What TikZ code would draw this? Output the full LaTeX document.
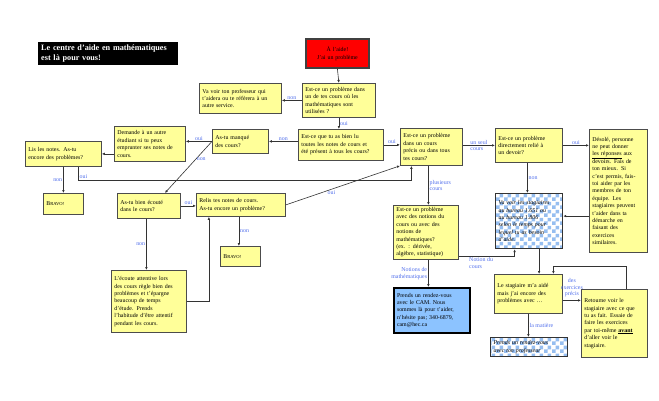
\documentclass[tikz,border=0pt]{standalone}
\usepackage{fontspec}
\setmainfont{Liberation Serif}
\usetikzlibrary{arrows.meta,patterns,shadows}

\definecolor{boxyellow}{RGB}{255,255,153}
\definecolor{labelblue}{RGB}{80,110,235}
\definecolor{camblue}{RGB}{140,195,255}
\definecolor{checkblue}{RGB}{150,190,240}

\pgfdeclarepatternformonly{bigchecks}{\pgfpointorigin}{\pgfqpoint{8pt}{8pt}}{\pgfqpoint{8pt}{8pt}}{%
  \pgfpathrectangle{\pgfpointorigin}{\pgfqpoint{4pt}{4pt}}%
  \pgfpathrectangle{\pgfqpoint{4pt}{4pt}}{\pgfqpoint{4pt}{4pt}}%
  \pgfusepath{fill}}

\newcommand{\bravo}{B{\fontsize{4.6}{5}\selectfont RAVO!}}

\tikzset{
  boxtext/.style={align=left, inner xsep=3pt, inner ysep=2pt, anchor=north west,
    font=\fontsize{5.9}{7.4}\selectfont},
  qbox/.style={boxtext, draw=gray!60!black, line width=0.8pt, fill=boxyellow,
    drop shadow={shadow xshift=0.8pt, shadow yshift=-0.8pt, fill=gray!60}},
  checkbox/.style={boxtext, draw=black!80, line width=1.2pt, pattern=bigchecks,
    pattern color=checkblue, font=\fontsize{5.9}{7.4}\selectfont\itshape},
  conn/.style={draw=gray!40!black, line width=0.6pt, -{Latex[length=3pt,width=2.6pt]}},
  lbl/.style={font=\fontsize{5.9}{6.6}\selectfont, text=labelblue, inner sep=1pt}
}

\begin{document}
\begin{tikzpicture}[x=1pt,y=-1pt]
\useasboundingbox (0,0) rectangle (659,400);

% Title
\node[fill=black, text=white, anchor=north west, align=left, text width=134pt,
  minimum height=23pt, inner sep=3pt, font=\fontsize{8.2}{9.5}\selectfont\bfseries]
  (title) at (38,42) {Le centre d'aide en mathématiques\\est là pour vous!};

% Boxes
\node[boxtext, align=center, fill=red, draw=gray!50!black, line width=1.8pt,
  text width=57pt, minimum height=29pt] (start) at (305,38) {À l'aide!\\J'ai un problème};
\node[qbox, text width=67pt, minimum height=34pt] (A) at (302,83)
  {Est-ce un problème dans\\un de tes cours où les\\mathématiques sont\\utilisées ?};
\node[qbox, text width=76pt, minimum height=30pt] (B) at (199,83)
  {Va voir ton professeur qui\\t'aidera ou te réfèrera à un\\autre service.};
\node[qbox, text width=79pt, minimum height=31pt] (C) at (298,129)
  {Est-ce que tu as bien lu\\toutes les notes de cours et\\été présent à tous les cours?};
\node[qbox, text width=50pt, minimum height=24pt] (D) at (212,129)
  {As-tu manqué\\des cours?};
\node[qbox, text width=65pt, minimum height=35pt] (E) at (114,126)
  {Demande à un autre\\étudiant si tu peux\\emprunter ses notes de\\cours.};
\node[qbox, text width=70pt, minimum height=25pt] (F) at (25,141)
  {Lis les notes. As-tu\\encore des problèmes?};
\node[qbox, text width=34pt, minimum height=21pt] (G) at (43,193) {\bravo};
\node[qbox, text width=57pt, minimum height=25pt] (I) at (117,193)
  {As-tu bien écouté\\dans le cours?};
\node[qbox, text width=83pt, minimum height=23pt] (J) at (196,193)
  {Relis tes notes de cours.\\As-tu encore un problème?};
\node[qbox, text width=34pt, minimum height=20pt] (K) at (220,246) {\bravo};
\node[qbox, text width=69pt, minimum height=62pt] (L) at (111,270)
  {L'écoute attentive lors\\des cours règle bien des\\problèmes et t'épargne\\beaucoup de temps\\d'étude. Prends\\l'habitude d'être attentif\\pendant les cours.};
\node[qbox, text width=56pt, minimum height=37pt] (H) at (400,128)
  {Est-ce un problème\\dans un cours\\précis ou dans tous\\tes cours?};
\node[qbox, text width=61pt, minimum height=34pt] (M) at (495,128)
  {Est-ce un problème\\directement relié à\\un devoir?};
\node[qbox, text width=52pt, minimum height=123pt] (N) at (589,129)
  {Désolé, personne\\ne peut donner\\\underline{les réponses} aux\\devoirs. Fais de\\ton mieux. Si\\c'est permis, fais-\\toi aider par les\\membres de ton\\équipe. Les\\stagiaires peuvent\\t'aider dans ta\\démarche en\\faisant des\\exercices\\similaires.};
\node[checkbox, text width=61pt, minimum height=55pt] (O) at (495,193)
  {Va voir les stagiaires\\au bureau 1.651 ou\\au bureau 1.806\\selon le temps pour\\lequel tu as besoin\\d'aide.};
\node[qbox, text width=59pt, minimum height=53pt] (P) at (393,205)
  {Est-ce un problème\\avec des notions du\\cours ou avec des\\notions de\\mathématiques?\\(ex. : dérivée,\\algèbre, statistique)};
\node[boxtext, fill=camblue, draw=black, line width=2pt, text width=70pt,
  minimum height=45pt] (Q) at (393,287)
  {Prends un rendez-vous\\avec le CAM. Nous\\sommes là pour t'aider,\\n'hésite pas; 340-6879,\\cam@hec.ca};
\node[qbox, text width=62pt, minimum height=39pt] (R) at (494,274)
  {Le stagiaire m'a aidé\\mais j'ai encore des\\problèmes avec \dots};
\node[checkbox, text width=71pt, minimum height=19pt] (S) at (490,337)
  {Prends un rendez-vous\\avec ton professeur};
\node[qbox, text width=60pt, minimum height=68pt] (T) at (581,289)
  {Retourne voir le\\stagiaire avec ce que\\tu as fait. Essaie de\\faire les exercices\\par toi-même \textbf{\underline{avant}}\\d'aller voir le\\stagiaire.};

% Connectors
\draw[conn] (start.south) -- (A.north);
\draw[conn] (A.west) -- (A.west -| B.east) node[lbl, midway, above] {non};
\draw[conn] (A.south) -- (A.south |- C.north) node[lbl, midway, right] {oui};
\draw[conn] (C.west |- D.east) -- (D.east) node[lbl, midway, above] {non};
\draw[conn] (D.west) -- (D.west -| E.east) node[lbl, midway, above] {oui};
\draw[conn] (D.west) -- ([xshift=16pt]I.north) node[lbl, pos=0.35, right] {non};
\draw[conn] (E.west |- F.east) -- (F.east);
\draw[conn] (F.south -| G.north) -- (G.north) node[lbl, midway, left] {non};
\draw[conn] ([xshift=15pt]F.south) -- ++(0,13) node[lbl, above right] {oui}
  -| ([xshift=-20pt]H.south);
\draw[conn] (I.east) -- (I.east -| J.west) node[lbl, midway, above] {oui};
\draw[conn] ([xshift=-2pt]J.south) -- ([xshift=-2pt]J.south |- K.north)
  node[lbl, midway, right] {non};
\draw[conn] ([xshift=-2.5pt]I.south) -- ([xshift=-2.5pt]I.south |- L.north)
  node[lbl, midway, left] {non};
\draw[conn] (L.east) -| ([xshift=-32pt]J.south);
\draw[conn] (J.east) -- (H.south west) node[lbl, pos=0.4, below] {oui};
\draw[conn] (C.east) -- (C.east -| H.west) node[lbl, midway, above] {oui};
\draw[conn] (H.east |- M.west) -- (M.west) node[lbl, midway, align=left] {un seul\\cours};
\draw[conn] (M.east) -- (M.east -| N.west) node[lbl, midway, above] {oui};
\draw[conn] ([xshift=-1.5pt]M.south) -- ([xshift=-1.5pt]M.south |- O.north)
  node[lbl, midway, right] {non};
\draw[conn] ([yshift=5pt]O.east -| N.west) -- ([yshift=5pt]O.east);
\draw[conn] ([xshift=-3pt]H.south) -- ([xshift=-3pt]H.south |- P.north)
  node[lbl, midway, right, align=left] {plusieurs\\cours};
\draw[conn] ([xshift=2.5pt]P.south) -- ([xshift=2.5pt]P.south |- Q.north)
  node[lbl, midway, left, align=right] {Notions de\\mathématiques};
\draw[conn] ([yshift=3pt]P.south east) -| ([xshift=-14.5pt]O.south)
  node[lbl, pos=0.2, below, align=left] {Notion du\\cours};
\draw[conn] ([xshift=10pt]O.south) -- ([xshift=10pt]O.south |- R.north);
\draw[conn] (R.south) -- (R.south |- S.north) node[lbl, midway, right] {la matière};
\draw[conn] ([yshift=-6.5pt]R.east) -- ([yshift=-6.5pt]R.east -| T.west)
  node[lbl, midway, above=2pt, align=center] {des\\exercices\\précis};
\draw[conn] ([xshift=12pt]T.north) -- ++(0,-23) -| ([xshift=25pt]R.north);
\end{tikzpicture}
\end{document}
